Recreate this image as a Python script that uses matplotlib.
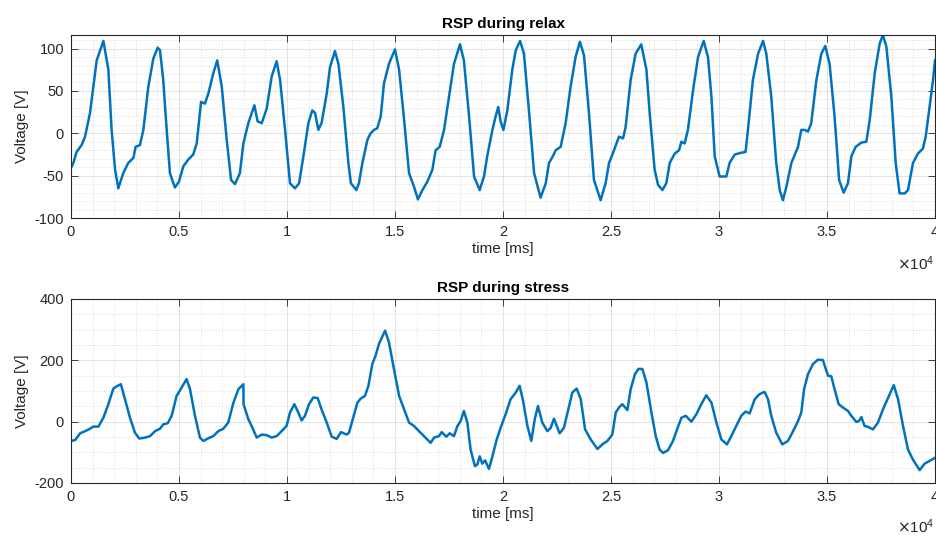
import matplotlib
matplotlib.use('Agg')
import matplotlib.pyplot as plt
from matplotlib.ticker import MultipleLocator, FuncFormatter

plt.rcParams['font.family'] = ['Liberation Sans', 'DejaVu Sans']

# ---- data (time in ms, voltage in V) ----
relax_t = [0, 110, 260, 490, 650, 880, 1190, 1500, 1730, 1880, 2040, 2190, 2420, 2650, 2890, 2990,
           3190, 3350, 3580, 3810, 4010, 4120, 4270, 4430, 4580, 4810, 5000, 5200, 5430, 5660,
           5820, 6020, 6200, 6360, 6590, 6770, 6980, 7210, 7410, 7590, 7820, 7980, 8210, 8490,
           8640, 8830, 9060, 9290, 9520, 9680, 9910, 10140, 10370, 10560, 10760, 10990, 11170,
           11300, 11450, 11600, 11840, 11990, 12220, 12380, 12610, 12840, 12960,
           13210, 13330, 13490, 13720, 13870, 14030, 14180, 14340, 14490, 14720, 15000, 15190,
           15420, 15650, 15880, 16060, 16270, 16500, 16730, 16880, 17070, 17270, 17500, 17730,
           18010, 18190, 18430, 18660, 18920, 19120, 19270, 19510, 19660, 19780, 19890, 20020,
           20200, 20430, 20590, 20790, 20970, 21200, 21440, 21740, 21980, 22130, 22310, 22440,
           22670, 22900, 23130, 23360, 23560, 23750, 23980, 24210, 24520, 24750, 24910, 25140,
           25370, 25560, 25680, 25910, 26140, 26400,
           26640, 26790, 27020, 27180, 27380, 27560, 27720, 27950, 28150, 28260, 28410, 28560,
           28800, 29030, 29290, 29490, 29650, 29800, 30030, 30340, 30490, 30730, 30880, 31030,
           31230, 31340, 31570, 31810, 32040, 32190, 32420, 32650, 32810, 32960, 33120, 33350,
           33660, 33810, 33970, 34120, 34270, 34510, 34740, 34920, 35120, 35350, 35560, 35770,
           35970, 36130, 36330, 36590, 36820, 36980, 37210, 37440, 37590, 37750, 37980, 38180,
           38360, 38600, 38750, 38980, 39210, 39440, 39570, 39750, 39910, 40000]
relax_v = [-41, -35, -22, -14, -4, 24, 86, 109, 75, 4, -43, -65, -47, -35, -29, -16,
           -14, 4, 55, 88, 101, 98, 63, 4, -47, -64, -57, -39, -31, -25,
           -12, 37, 35, 47, 71, 86, 55, -8, -55, -60, -47, -12, 12, 33,
           14, 12, 29, 67, 85, 63, 4, -59, -65, -59, -27, 12, 27,
           24, 4, 12, 47, 78, 97, 82, 31, -35, -59,
           -67, -59, -35, -8, 0, 4, 6, 20, 59, 82, 99, 75,
           16, -47, -63, -78, -67, -57, -43, -20, -16, 4, 43, 82,
           105, 86, 20, -51, -67, -51, -27, 4, 20, 31, 14, 4,
           27, 75, 98, 109, 94, 27, -47, -76, -59, -35, -27, -20,
           -16, 12, 55, 90, 108, 92, 24, -55, -79, -59, -35, -20,
           -4, -6, 8, 63, 94, 105,
           75, 24, -43, -61, -67, -59, -35, -24, -20, -10, -12, 4,
           51, 90, 109, 90, 43, -27, -51, -51, -35, -25, -24, -23,
           -22, 4, 63, 94, 109, 94, 43, -35, -67, -79, -63, -35,
           -16, 4, 4, 2, 12, 63, 94, 103, 82, 20, -55, -70,
           -59, -27, -16, -11, -10, 16, 71, 106, 116, 102, 43, -35,
           -71, -71, -67, -35, -24, -18, -4, 31, 63, 86]

stress_t = [0, 190, 420, 650, 880, 1030, 1270, 1500, 1730, 1960, 2110, 2310, 2500, 2730, 2960,
            3160, 3430, 3660, 3890, 4120, 4270, 4480, 4660, 4890, 5120, 5350, 5510, 5740, 5970,
            6130, 6360, 6590, 6820, 7050, 7280, 7520, 7750, 7980, 7990, 8210, 8360, 8600, 8830,
            9060, 9290, 9520, 9750, 9980, 10140, 10340, 10520, 10680, 10830, 11020, 11220, 11420,
            11600, 11840, 12070, 12300, 12500, 12760,
            12870, 13020, 13260, 13410, 13610, 13770, 13950, 14100, 14260, 14540, 14720, 14950,
            15190, 15420, 15650, 15880, 16110, 16340, 16650, 16810, 17040, 17160, 17380, 17530,
            17730, 17890, 18040, 18190, 18350, 18500, 18700, 18810, 18920, 19040, 19170, 19350,
            19510, 19710, 19890, 20120, 20350, 20590, 20770, 20930, 21130, 21310, 21470, 21620,
            21820, 22050, 22210, 22360, 22620, 22820, 23060, 23210, 23410, 23600, 23800, 24060,
            24370, 24600, 24830, 25060, 25220, 25370, 25520, 25760, 25910, 26110, 26270, 26450,
            26640, 26870, 27070, 27250, 27410, 27640, 27870, 28060, 28260, 28460, 28720, 28950,
            29180, 29410, 29650, 29880, 30110, 30370, 30570, 30800, 31030, 31230, 31420, 31650,
            31880, 32110, 32270, 32420, 32650, 32930, 33190, 33430, 33660, 33810, 33940, 34120,
            34350, 34580, 34810, 34970, 35050, 35200, 35350, 35540, 35740, 35970, 36130, 36360,
            36480, 36590, 36740, 36900, 37130, 37360, 37590, 37870, 38090, 38290, 38520, 38750,
            38980, 39290, 39520, 39720, 40000]
stress_v = [-63, -60, -38, -31, -23, -16, -16, 13, 57, 108, 115, 122, 73, 13, -36,
            -55, -52, -47, -31, -23, -9, -5, 19, 84, 111, 139, 106, 19, -52,
            -63, -54, -47, -31, -23, -3, 62, 106, 122, 57, 8, -14, -52, -42,
            -44, -52, -47, -31, -14, 30, 57, 30, 4, 19, 57, 79, 77,
            40, -3, -49, -56, -34, -42,
            -36, 2, 62, 75, 84, 117, 188, 215, 254, 297, 259, 172,
            84, 40, -3, -14, -31, -47, -69, -52, -47, -34, -49, -38,
            -47, -14, 2, 35, -3, -91, -145, -140, -113, -137, -126, -154,
            -113, -58, -20, 24, 73, 95, 117, 68, -14, -63, 8, 51,
            -3, -31, -20, 10, -38, -20, 51, 95, 108, 73, -25, -58,
            -89, -74, -63, -42, 30, 46, 57, 38, 106, 155, 172, 172,
            128, 30, -47, -91, -102, -93, -63, -25, 13, 19, 0, 24,
            57, 86, 62, -3, -58, -74, -47, -14, 19, 33, 27, 73,
            90, 97, 73, 19, -36, -74, -63, -31, 2, 30, 106, 155,
            188, 202, 201, 166, 150, 148, 106, 57, 46, 35, 19, -1,
            2, 15, -14, -17, -25, -3, 40, 84, 119, 73, -14, -91,
            -124, -158, -137, -129, -118]

titles = ['RSP during relax', 'RSP during stress']
xlabel_text = 'time [ms]'
ylabel_text = 'Voltage [V]'

LINE = '#0072BD'
AXC = '#262626'

fig = plt.figure(figsize=(9.37, 5.36), dpi=100)
ax1 = fig.add_axes([71/937, 1 - 218/536, 864/937, 183/536])
ax2 = fig.add_axes([71/937, 1 - 483/536, 864/937, 184/536])


def style(ax, title, ylim, ymajor, yminor, offy):
    ax.set_xlim(0, 40000)
    ax.set_ylim(*ylim)
    ax.xaxis.set_major_locator(MultipleLocator(5000))
    ax.xaxis.set_minor_locator(MultipleLocator(1000))
    ax.yaxis.set_major_locator(MultipleLocator(ymajor))
    ax.yaxis.set_minor_locator(MultipleLocator(yminor))
    ax.xaxis.set_major_formatter(FuncFormatter(lambda v, p: f"{v/1e4:g}"))
    ax.yaxis.set_major_formatter(FuncFormatter(lambda v, p: f"{v:g}"))
    ax.grid(True, which='major', color=AXC, alpha=0.15, linewidth=0.6)
    ax.grid(True, which='minor', color=AXC, alpha=0.2, linewidth=0.6, linestyle=(0, (1, 2)))
    ax.set_axisbelow(True)
    ax.tick_params(which='both', direction='in', top=True, right=True, colors=AXC,
                   labelcolor=AXC, labelsize=10.5)
    ax.tick_params(which='major', length=5, width=0.6, pad=5)
    ax.tick_params(which='minor', length=0)
    for s in ax.spines.values():
        s.set_color(AXC)
        s.set_linewidth(0.8)
    ax.set_title(title, fontsize=11, fontweight='bold', color='black', pad=5)
    ax.set_xlabel(xlabel_text, fontsize=11, color=AXC, labelpad=2)
    ax.set_ylabel(ylabel_text, fontsize=11, color=AXC, labelpad=4)
    ax.text(0.999, offy, r'$\times\mathregular{10^{4}}$', transform=ax.transAxes,
            ha='right', va='center', fontsize=11, color=AXC)


ax1.plot(relax_t, relax_v, color=LINE, linewidth=1.8, solid_joinstyle='round')
style(ax1, titles[0], (-100, 116), 50, 10, -0.25)

ax2.plot(stress_t, stress_v, color=LINE, linewidth=1.8, solid_joinstyle='round')
style(ax2, titles[1], (-200, 400), 200, 50, -0.235)

fig.savefig('out.png', dpi=100)
